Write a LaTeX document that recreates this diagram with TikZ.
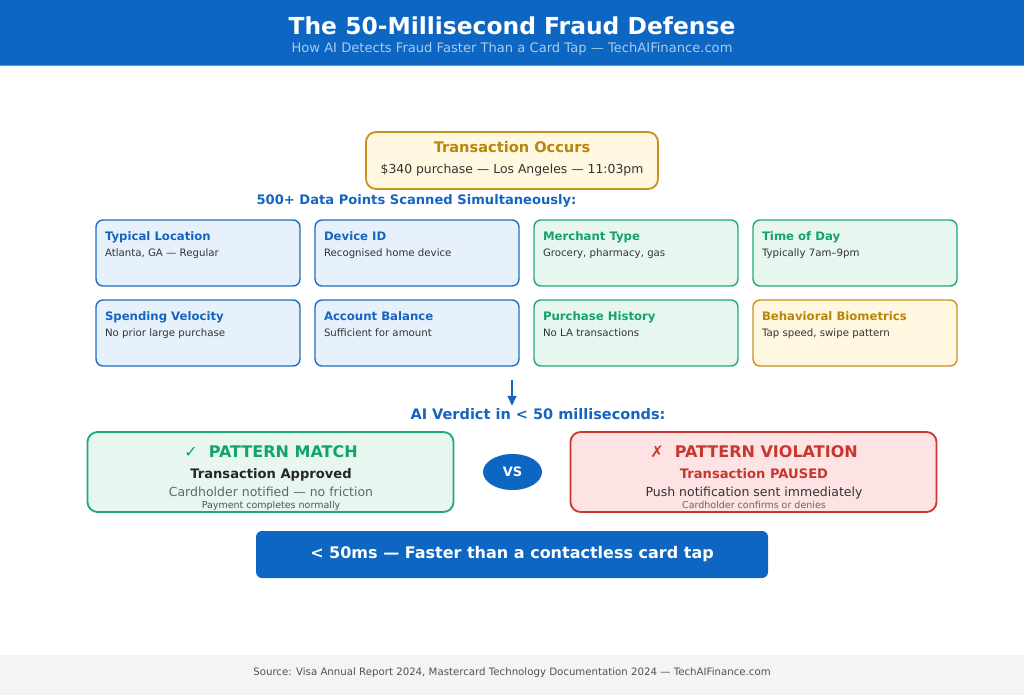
\documentclass[tikz,border=0pt]{standalone}
\usepackage{fontspec}
\setmainfont{DejaVu Sans}
\usetikzlibrary{arrows.meta,positioning,shapes.geometric}

\definecolor{hdrblue}{HTML}{0C66C2}
\definecolor{hdrsub}{HTML}{A9CBF0}
\definecolor{blutxt}{HTML}{1565C0}
\definecolor{blufill}{HTML}{E7F1FB}
\definecolor{bluline}{HTML}{1F6CC3}
\definecolor{grntxt}{HTML}{12A36B}
\definecolor{grnfill}{HTML}{E7F7EF}
\definecolor{grnline}{HTML}{1FAA73}
\definecolor{goldtxt}{HTML}{B8860B}
\definecolor{goldfill}{HTML}{FFF7E0}
\definecolor{goldline}{HTML}{C8921E}
\definecolor{redtxt}{HTML}{C8372D}
\definecolor{redfill}{HTML}{FDE3E3}
\definecolor{redline}{HTML}{C9382E}
\definecolor{inktxt}{HTML}{333333}
\definecolor{greytxt}{HTML}{666666}
\definecolor{footgray}{HTML}{F4F4F4}

\newcommand{\pttl}[2]{{\color{#1}\bfseries\fontsize{11.7}{14}\selectfont #2}\par}

\begin{document}
\begin{tikzpicture}[
  x=1pt, y=-1pt,
  node distance=14pt and 15pt,
  lbl/.style={anchor=base, inner sep=0pt},
  datapt/.style={rounded corners=7pt, line width=1.4pt, inner xsep=9pt, inner ysep=11.5pt, outer sep=0pt,
    execute at begin node={\begin{minipage}[t][43pt][t]{186pt}\fontsize{10.2}{16}\selectfont\color{inktxt}},
    execute at end node={\end{minipage}}},
  bluept/.style={datapt, draw=bluline, fill=blufill},
  grnpt/.style={datapt, draw=grnline, fill=grnfill},
  goldpt/.style={datapt, draw=goldline, fill=goldfill},
  verdictbox/.style={rounded corners=10pt, line width=1.8pt, minimum width=366pt, minimum height=80pt},
  arrow/.style={-{Triangle[length=10pt,width=9pt]}, line width=1.6pt, draw=blutxt}
]
\useasboundingbox (0,0) rectangle (1024,695);

% header
\fill[hdrblue] (0,0) rectangle (1024,66);
\draw[hdrsub!50!hdrblue, line width=1pt] (0,66) -- (1024,66);
\node[lbl, text=white, font=\bfseries\fontsize{23.4}{27}\selectfont] (title) at (512,35) {The 50-Millisecond Fraud Defense};
\node[lbl, text=hdrsub, font=\fontsize{13.1}{15}\selectfont] (subtitle) at (512,53) {How AI Detects Fraud Faster Than a Card Tap — TechAIFinance.com};

% transaction
\node[draw=goldline, fill=goldfill, line width=1.8pt, rounded corners=10pt,
  minimum width=292pt, minimum height=57pt] (txn) at (512,160.5) {};
\node[lbl, text=goldtxt, font=\bfseries\fontsize{14.6}{17}\selectfont] (txnttl) at (512,153) {Transaction Occurs};
\node[lbl, text=inktxt, font=\fontsize{12.4}{14}\selectfont] (txndesc) at (512,173) {\$340 purchase — Los Angeles — 11:03pm};

\node[lbl, text=blutxt, font=\bfseries\fontsize{13.1}{15}\selectfont] (scan) at (416.5,204) {500+ Data Points Scanned Simultaneously:};

% data points
\node[bluept, anchor=north west] (loc) at (96,220) {\pttl{blutxt}{Typical Location}Atlanta, GA — Regular};
\node[bluept, right=of loc] (dev) {\pttl{blutxt}{Device ID}Recognised home device};
\node[grnpt, right=of dev] (merch) {\pttl{grntxt}{Merchant Type}Grocery, pharmacy, gas};
\node[grnpt, right=of merch] (tod) {\pttl{grntxt}{Time of Day}Typically 7am–9pm};
\node[bluept, below=of loc] (vel) {\pttl{blutxt}{Spending Velocity}No prior large purchase};
\node[bluept, right=of vel] (bal) {\pttl{blutxt}{Account Balance}Sufficient for amount};
\node[grnpt, right=of bal] (hist) {\pttl{grntxt}{Purchase History}No LA transactions};
\node[goldpt, right=of hist] (bio) {\pttl{goldtxt}{Behavioral Biometrics}Tap speed, swipe pattern};

% verdict
\node[lbl, text=blutxt, inner sep=2pt, font=\bfseries\fontsize{14.5}{17}\selectfont] (verdict) at (538,419) {AI Verdict in < 50 milliseconds:};
\coordinate (arrtop) at (512,380);
\draw[arrow] (arrtop) -- (arrtop |- verdict.north);

\node[verdictbox, draw=grnline, fill=grnfill] (okv) at (270.5,472) {};
\node[lbl, text=grntxt, font=\bfseries\fontsize{16}{19}\selectfont] (okhead) at (271,457.5) {{\mdseries ✓}~~PATTERN MATCH};
\node[lbl, text=black!85, font=\bfseries\fontsize{13.1}{15}\selectfont] (okstate) at (271,478) {Transaction Approved};
\node[lbl, text=greytxt, font=\fontsize{12.5}{15}\selectfont] (oknote) at (271,496.5) {Cardholder notified — no friction};
\node[lbl, text=inktxt!85, font=\fontsize{9.5}{11}\selectfont] (okfoot) at (271,508) {Payment completes normally};

\node[ellipse, fill=hdrblue, text=white, inner sep=0pt, minimum width=59pt, minimum height=36pt,
  font=\bfseries\fontsize{13}{15}\selectfont] (vs) at (512.5,472) {VS};

\node[verdictbox, draw=redline, fill=redfill] (badv) at (753.5,472) {};
\node[lbl, text=redtxt, font=\bfseries\fontsize{16}{19}\selectfont] (badhead) at (754,457.5) {{\mdseries ✗}~~PATTERN VIOLATION};
\node[lbl, text=redtxt, font=\bfseries\fontsize{13.1}{15}\selectfont] (badstate) at (754,478) {Transaction PAUSED};
\node[lbl, text=inktxt, font=\fontsize{12.5}{15}\selectfont] (badnote) at (754,496.5) {Push notification sent immediately};
\node[lbl, text=greytxt, font=\fontsize{9.5}{11}\selectfont] (badfoot) at (754,508) {Cardholder confirms or denies};

% speed bar
\node[fill=hdrblue, rounded corners=6pt, minimum width=512pt, minimum height=47pt, text=white,
  font=\bfseries\fontsize{16}{19}\selectfont] (speed) at (512,554.5) {< 50ms — Faster than a contactless card tap};

% footer
\fill[footgray] (0,655) rectangle (1024,695);
\node[lbl, text=inktxt!85, font=\fontsize{10.2}{12}\selectfont] (src) at (512,675) {Source: Visa Annual Report 2024, Mastercard Technology Documentation 2024 — TechAIFinance.com};
\end{tikzpicture}
\end{document}
